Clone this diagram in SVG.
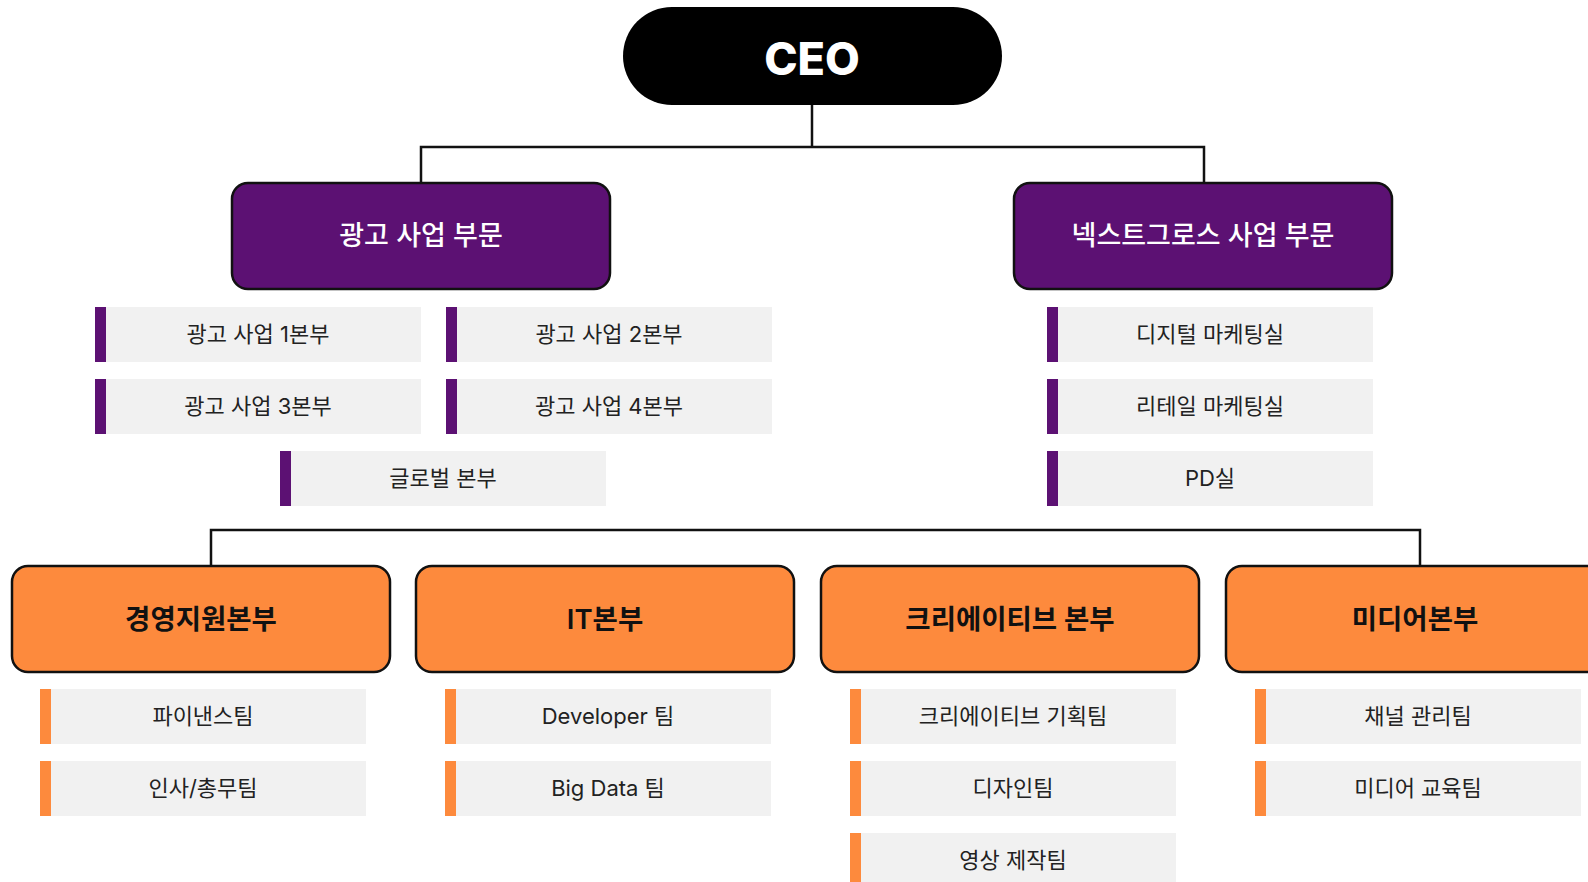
<svg xmlns="http://www.w3.org/2000/svg" width="1588" height="882" viewBox="0 0 1588 882">
<style>
  text { font-family: "Inter", "Noto Sans CJK KR", "Noto Sans", sans-serif; text-anchor: middle; dominant-baseline: central; }
  .ceo { fill: #000; }
  .ceo-t { fill: #fff; font-size: 45px; font-weight: 800; }
  .div { fill: #5C1173; stroke: #111; stroke-width: 2.5; }
  .div-t { fill: #fff; font-size: 27px; font-weight: 500; }
  .hq { fill: #FD8A3D; stroke: #111; stroke-width: 2.5; }
  .hq-t { fill: #111; font-size: 27.5px; font-weight: 600; }
  .item { fill: #F1F1F1; }
  .bar-p { fill: #5C1173; }
  .bar-o { fill: #FD8A3D; }
  .item-t { fill: #222; font-size: 22px; font-weight: 400; }
  .conn { fill: none; stroke: #111; stroke-width: 2.5; }
</style>

<g id="connectors">
  <path class="conn" d="M812 105 V147"/>
  <path class="conn" d="M421 183 V147 H1204 V183"/>
  <path class="conn" d="M211 566 V530 H1420 V566"/>
</g>

<g id="ceo">
  <rect class="ceo" x="623" y="7" width="379" height="98" rx="49"/>
  <text class="ceo-t" x="812" y="58">CEO</text>
</g>

<g id="div-ad">
  <rect class="div" x="232" y="183" width="378" height="106" rx="16"/>
  <text class="div-t" x="421" y="235">광고 사업 부문</text>
</g>
<g id="div-nextgrowth">
  <rect class="div" x="1014" y="183" width="378" height="106" rx="16"/>
  <text class="div-t" x="1203" y="235">넥스트그로스 사업 부문</text>
</g>

<g id="ad-1">
  <rect class="item" x="95" y="307" width="326" height="55"/>
  <rect class="bar-p" x="95" y="307" width="11" height="55"/>
  <text class="item-t" x="258" y="334">광고 사업 1본부</text>
</g>
<g id="ad-2">
  <rect class="item" x="446" y="307" width="326" height="55"/>
  <rect class="bar-p" x="446" y="307" width="11" height="55"/>
  <text class="item-t" x="609" y="334">광고 사업 2본부</text>
</g>
<g id="ad-3">
  <rect class="item" x="95" y="379" width="326" height="55"/>
  <rect class="bar-p" x="95" y="379" width="11" height="55"/>
  <text class="item-t" x="258" y="406">광고 사업 3본부</text>
</g>
<g id="ad-4">
  <rect class="item" x="446" y="379" width="326" height="55"/>
  <rect class="bar-p" x="446" y="379" width="11" height="55"/>
  <text class="item-t" x="609" y="406">광고 사업 4본부</text>
</g>
<g id="ad-global">
  <rect class="item" x="280" y="451" width="326" height="55"/>
  <rect class="bar-p" x="280" y="451" width="11" height="55"/>
  <text class="item-t" x="443" y="478">글로벌 본부</text>
</g>

<g id="ng-digital">
  <rect class="item" x="1047" y="307" width="326" height="55"/>
  <rect class="bar-p" x="1047" y="307" width="11" height="55"/>
  <text class="item-t" x="1210" y="334">디지털 마케팅실</text>
</g>
<g id="ng-retail">
  <rect class="item" x="1047" y="379" width="326" height="55"/>
  <rect class="bar-p" x="1047" y="379" width="11" height="55"/>
  <text class="item-t" x="1210" y="406">리테일 마케팅실</text>
</g>
<g id="ng-pd">
  <rect class="item" x="1047" y="451" width="326" height="55"/>
  <rect class="bar-p" x="1047" y="451" width="11" height="55"/>
  <text class="item-t" x="1210" y="478">PD실</text>
</g>

<g id="hq-management">
  <rect class="hq" x="12" y="566" width="378" height="106" rx="16"/>
  <text class="hq-t" x="201" y="619">경영지원본부</text>
</g>
<g id="hq-it">
  <rect class="hq" x="416" y="566" width="378" height="106" rx="16"/>
  <text class="hq-t" x="605" y="619">IT본부</text>
</g>
<g id="hq-creative">
  <rect class="hq" x="821" y="566" width="378" height="106" rx="16"/>
  <text class="hq-t" x="1010" y="619">크리에이티브 본부</text>
</g>
<g id="hq-media">
  <rect class="hq" x="1226" y="566" width="378" height="106" rx="16"/>
  <text class="hq-t" x="1415" y="619">미디어본부</text>
</g>

<g id="team-finance">
  <rect class="item" x="40" y="689" width="326" height="55"/>
  <rect class="bar-o" x="40" y="689" width="11" height="55"/>
  <text class="item-t" x="203" y="716">파이낸스팀</text>
</g>
<g id="team-hr">
  <rect class="item" x="40" y="761" width="326" height="55"/>
  <rect class="bar-o" x="40" y="761" width="11" height="55"/>
  <text class="item-t" x="203" y="788">인사/총무팀</text>
</g>
<g id="team-developer">
  <rect class="item" x="445" y="689" width="326" height="55"/>
  <rect class="bar-o" x="445" y="689" width="11" height="55"/>
  <text class="item-t" x="608" y="716">Developer 팀</text>
</g>
<g id="team-bigdata">
  <rect class="item" x="445" y="761" width="326" height="55"/>
  <rect class="bar-o" x="445" y="761" width="11" height="55"/>
  <text class="item-t" x="608" y="788">Big Data 팀</text>
</g>
<g id="team-creative-planning">
  <rect class="item" x="850" y="689" width="326" height="55"/>
  <rect class="bar-o" x="850" y="689" width="11" height="55"/>
  <text class="item-t" x="1013" y="716">크리에이티브 기획팀</text>
</g>
<g id="team-design">
  <rect class="item" x="850" y="761" width="326" height="55"/>
  <rect class="bar-o" x="850" y="761" width="11" height="55"/>
  <text class="item-t" x="1013" y="788">디자인팀</text>
</g>
<g id="team-video">
  <rect class="item" x="850" y="833" width="326" height="55"/>
  <rect class="bar-o" x="850" y="833" width="11" height="55"/>
  <text class="item-t" x="1013" y="860">영상 제작팀</text>
</g>
<g id="team-channel">
  <rect class="item" x="1255" y="689" width="326" height="55"/>
  <rect class="bar-o" x="1255" y="689" width="11" height="55"/>
  <text class="item-t" x="1418" y="716">채널 관리팀</text>
</g>
<g id="team-media-edu">
  <rect class="item" x="1255" y="761" width="326" height="55"/>
  <rect class="bar-o" x="1255" y="761" width="11" height="55"/>
  <text class="item-t" x="1418" y="788">미디어 교육팀</text>
</g>
</svg>
